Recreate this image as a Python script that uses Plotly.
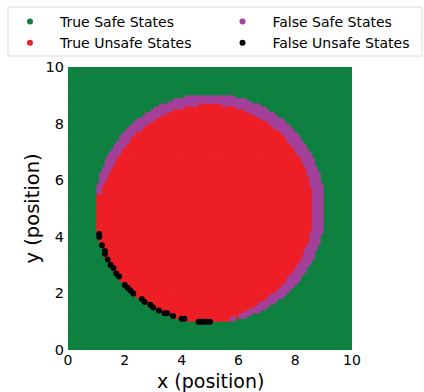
import numpy as np
import plotly.graph_objects as go

# State grid over the 10 x 10 workspace (x, y positions)
grid_x = np.round(np.arange(0, 10.0001, 0.1), 2)
grid_y = np.round(np.arange(0, 10.0001, 0.1), 2)

# Ground-truth unsafe set: circular obstacle
obstacle_center = (5.0, 5.0)
obstacle_radius = 3.99

# Learned safety boundary, given as the offset of the predicted unsafe radius
# from the true obstacle radius, sampled by polar angle around the obstacle centre
boundary_angle_deg = [0, 30, 60, 90, 120, 150, 165, 175, 185, 192, 215, 240,
                      262, 270, 278, 290, 305, 320, 340, 360]
boundary_offset = [-0.30, -0.31, -0.29, -0.26, -0.25, -0.22, -0.14, -0.03, 0.0,
                   0.04, 0.05, 0.05, 0.04, 0.01, -0.01, -0.10, -0.20, -0.25,
                   -0.28, -0.30]

class_names = ["True Safe States", "True Unsafe States",
               "False Safe States", "False Unsafe States"]
class_colors = ["#0f8040", "#ee1f27", "#a3409a", "#000000"]
class_legend = ["legend", "legend", "legend2", "legend2"]

# Classify every grid state
X, Y = np.meshgrid(grid_x, grid_y)
X = X.ravel()
Y = Y.ravel()
dx = X - obstacle_center[0]
dy = Y - obstacle_center[1]
dist = np.hypot(dx, dy)
ang = np.degrees(np.arctan2(dy, dx)) % 360
pred_radius = obstacle_radius + np.interp(ang, boundary_angle_deg, boundary_offset)

truly_unsafe = dist <= obstacle_radius
pred_unsafe = dist <= pred_radius + 1e-9

masks = [
    (~truly_unsafe) & (~pred_unsafe),
    truly_unsafe & pred_unsafe,
    truly_unsafe & (~pred_unsafe),
    (~truly_unsafe) & pred_unsafe,
]

fig = go.Figure()
for name, color, leg, m in zip(class_names, class_colors, class_legend, masks):
    fig.add_trace(go.Scatter(
        x=X[m], y=Y[m], mode="markers", name=name, legend=leg,
        marker=dict(color=color, size=6, line=dict(width=0)),
        hoverinfo="skip",
    ))

# Page geometry (pixels)
W, H = 424, 392
ML, MR, MT, MB = 68, 72, 67, 42
PW, PH = W - ML - MR, H - MT - MB


def px_to_paper_x(px):
    return (px - ML) / PW


def px_to_paper_y(py):
    return (H - MB - py) / PH


font_family = "DejaVu Sans"
legend_common = dict(
    orientation="v",
    xref="container", yref="container",
    yanchor="top", xanchor="left",
    itemwidth=50,
    font=dict(size=14, family=font_family),
    borderwidth=0,
    bgcolor="rgba(0,0,0,0)",
    traceorder="normal",
)

title_font = dict(size=19, family=font_family, color="black")

fig.update_layout(
    width=W, height=H,
    margin=dict(l=ML, r=MR, t=MT, b=MB, autoexpand=False),
    paper_bgcolor="white", plot_bgcolor="white",
    font=dict(family=font_family, color="black"),
    showlegend=True,
    legend=dict(x=0, y=1 - 6 / H, **legend_common),
    legend2=dict(x=212.5 / W, y=1 - 6 / H, **legend_common),
    xaxis=dict(
        range=[0, 10], tickvals=[0, 2, 4, 6, 8, 10],
        showgrid=False, zeroline=False, showline=False, ticks="",
        ticklabelstandoff=0, automargin=False,
        tickfont=dict(size=14),
    ),
    yaxis=dict(
        range=[0, 10], tickvals=[0, 2, 4, 6, 8, 10],
        showgrid=False, zeroline=False, showline=False, ticks="",
        ticklabelstandoff=3, automargin=False,
        tickfont=dict(size=14.5),
    ),
    annotations=[
        dict(
            text="x (position)", showarrow=False,
            xref="paper", yref="paper", x=0.5, y=px_to_paper_y(393),
            xanchor="center", yanchor="bottom", borderpad=0,
            font=title_font,
        ),
        dict(
            text="y (position)", textangle=-90, showarrow=False,
            xref="paper", yref="paper", x=px_to_paper_x(32), y=0.5,
            xanchor="center", yanchor="middle",
            font=dict(size=19.5, family=font_family, color="black"),
        ),
    ],
    shapes=[dict(
        type="rect", xref="paper", yref="paper", layer="below",
        x0=px_to_paper_x(8), x1=px_to_paper_x(422),
        y0=px_to_paper_y(56), y1=px_to_paper_y(7),
        line=dict(color="#dddddd", width=1), fillcolor="rgba(0,0,0,0)",
    )],
)

fig.write_html("out.html")
